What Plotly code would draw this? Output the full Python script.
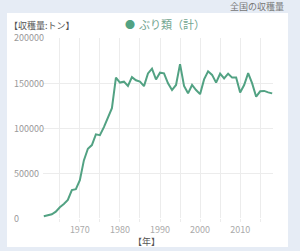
import plotly.graph_objects as go

years = list(range(1961, 2019))
values = [
    2000, 3300, 4100, 7000, 11900, 15500, 20000, 31000, 32000, 42000,
    64000, 77000, 81000, 93000, 92000, 101000, 112600, 122000, 156000, 150500,
    151500, 146700, 156500, 153000, 151500, 146500, 160700, 166000, 154000, 161500,
    160700, 149600, 142200, 147800, 171000, 146700, 138500, 147800, 142200, 137600,
    154000, 163000, 159000, 150400, 160300, 155000, 160300, 156000, 156000, 139500,
    147800, 161000, 149600, 134800, 140800, 141200, 139600, 138500,
]
series_name = "ぶり類（計）"
y_ticks = [0, 50000, 100000, 150000, 200000]
x_grid = list(range(1965, 2016, 5))
x_labels = [str(v) if v % 10 == 0 else "" for v in x_grid]

FONT = "Noto Sans CJK JP"
LINE = "#52a283"
GRID = "#ececec"
W, H = 300, 251

fig = go.Figure()
fig.add_trace(go.Scatter(x=years, y=values, mode="lines",
                         line=dict(color=LINE, width=2), showlegend=False,
                         name=series_name))

x0, x1 = 43 / W, 273 / W
y0, y1 = 1 - 218 / H, 1 - 38 / H

fig.update_layout(
    width=W, height=H,
    margin=dict(l=0, r=0, t=0, b=0),
    paper_bgcolor="#e6ecf5",
    plot_bgcolor="rgba(0,0,0,0)",
    font=dict(family=FONT, size=9, color="#999"),
    xaxis=dict(domain=[x0, x1], range=[1960.8, 2018.2],
               tickvals=x_grid, ticktext=x_labels,
               showgrid=True, gridcolor=GRID, gridwidth=1,
               zeroline=False, showline=False,
               ticks="outside", ticklen=3, tickcolor=GRID,
               tickfont=dict(size=9, color="#aaa"), fixedrange=True),
    yaxis=dict(domain=[y0, y1], range=[0, 200000],
               tickvals=y_ticks, showticklabels=False,
               showgrid=True, gridcolor=GRID, gridwidth=1,
               zeroline=False, showline=False, fixedrange=True),
    shapes=[dict(type="rect", xref="paper", yref="paper",
                 x0=7 / W, x1=288 / W, y0=1 - 247 / H, y1=1 - 13 / H,
                 fillcolor="white", line=dict(width=0), layer="below")],
)

ann = []
for v in y_ticks:
    ann.append(dict(x=12 / W, xref="paper", y=v, yref="y", text=str(v),
                    showarrow=False, xanchor="left", yanchor="middle",
                    font=dict(size=9, color="#999")))
ann.append(dict(x=7 / W, xref="paper", y=1 - 25 / H, yref="paper",
                text="【収穫量:トン】", showarrow=False, xanchor="left",
                yanchor="middle", font=dict(size=9, color="#555")))
ann.append(dict(x=146 / W, xref="paper", y=1 - 241.5 / H, yref="paper",
                text="【年】", showarrow=False, xanchor="center",
                yanchor="middle", font=dict(size=9, color="#555")))
ann.append(dict(x=286 / W, xref="paper", y=1 - 7 / H, yref="paper",
                text="全国の収穫量", showarrow=False, xanchor="right",
                yanchor="middle", font=dict(size=9, color="#777")))
ann.append(dict(x=130 / W, xref="paper", y=1 - 24 / H, yref="paper",
                text="●", showarrow=False, xanchor="center",
                yanchor="middle", font=dict(size=10, color=LINE)))
ann.append(dict(x=137 / W, xref="paper", y=1 - 24 / H, yref="paper",
                text=series_name, showarrow=False, xanchor="left",
                yanchor="middle", font=dict(size=11, color="#72a590")))
fig.update_layout(annotations=ann)

fig.write_html("out.html")
